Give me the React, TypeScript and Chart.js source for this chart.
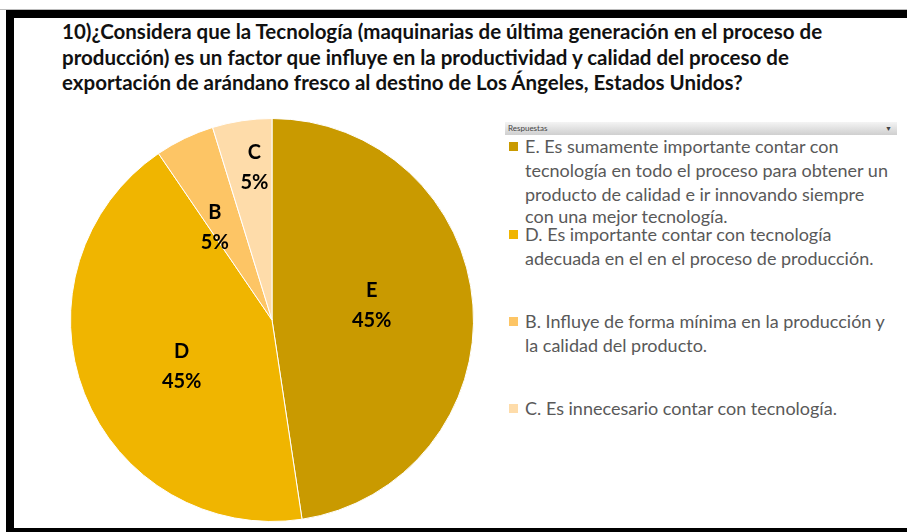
import React, { useEffect, useRef } from "react";
import { Chart, registerables } from "chart.js";

Chart.register(...registerables);

const titleLines = [
  "10)¿Considera que la Tecnología (maquinarias de última generación en el proceso de",
  "producción) es un factor que influye en la productividad y calidad del proceso de",
  "exportación de arándano fresco al destino de Los Ángeles, Estados Unidos?",
];
const categories = ["E", "D", "B", "C"];
const legendLines = [
  [
    "E. Es sumamente importante contar con",
    "tecnología en todo el proceso para obtener un",
    "producto de calidad e ir innovando siempre",
    "con una mejor tecnología.",
  ],
  ["D. Es importante contar con tecnología", "adecuada en el en el proceso de producción."],
  ["B. Influye de forma mínima en la producción y", "la calidad del producto."],
  ["C. Es innecesario contar con tecnología."],
];
const counts = [10, 9, 1, 1];
const percentLabels = ["45%", "45%", "5%", "5%"];
const legendHeader = "Respuestas";

const colors = ["#C99A00", "#F0B500", "#FDC565", "#FEDCAA"];
const labelRadiusFrac = [0.5, 0.505, 0.54, 0.76];
const labelAngleShift = [-4, -6, -6, 2];
const legendTops = [134, 222, 309, 396];

const labelPlugin = {
  id: "sliceLabels",
  afterDatasetsDraw(chart: any) {
    const ctx = chart.ctx;
    const meta = chart.getDatasetMeta(0);
    ctx.save();
    ctx.fillStyle = "#000";
    ctx.font = "bold 20px Lato, 'Noto Sans', sans-serif";
    ctx.textAlign = "center";
    ctx.textBaseline = "middle";
    meta.data.forEach((arc: any, i: number) => {
      const p = arc.getProps(["x", "y", "startAngle", "endAngle", "outerRadius"], true);
      const mid = (p.startAngle + p.endAngle) / 2 + (labelAngleShift[i] * Math.PI) / 180;
      const r = p.outerRadius * labelRadiusFrac[i];
      const x = p.x + Math.cos(mid) * r;
      const y = p.y + Math.sin(mid) * r;
      ctx.fillText(categories[i], x, y - 15);
      ctx.fillText(percentLabels[i], x, y + 15);
    });
    ctx.restore();
  },
};

export default function App() {
  const ref = useRef<HTMLCanvasElement>(null);
  useEffect(() => {
    document.body.style.margin = "0";
    const chart = new Chart(ref.current!, {
      type: "pie",
      data: {
        labels: categories,
        datasets: [
          {
            data: counts,
            backgroundColor: colors,
            borderColor: "#ffffff",
            borderWidth: 1,
          },
        ],
      },
      options: {
        animation: false,
        responsive: false,
        maintainAspectRatio: false,
        layout: { padding: 8 },
        plugins: { legend: { display: false }, tooltip: { enabled: false } },
      },
      plugins: [labelPlugin],
    });
    return () => chart.destroy();
  }, []);

  return (
    <div
      style={{
        position: "relative",
        width: 907,
        height: 532,
        background: "#fff",
        overflow: "hidden",
        fontFamily: "Lato, 'Noto Sans', sans-serif",
      }}
    >
      <div style={{ position: "absolute", left: 0, top: 9, width: 907, height: 1, background: "#bbb" }} />
      <div
        style={{
          position: "absolute",
          left: 6,
          top: 10,
          width: 920,
          height: 510,
          borderTop: "8px solid #000",
          borderLeft: "8px solid #000",
          borderBottom: "6px solid #000",
        }}
      />
      <div
        style={{
          position: "absolute",
          left: 62,
          top: 19,
          fontWeight: 700,
          fontSize: 20.5,
          lineHeight: "25.5px",
          color: "#111",
          whiteSpace: "nowrap",
        }}
      >
        {titleLines.map((l, i) => (
          <div key={i}>{l}</div>
        ))}
      </div>
      <canvas
        ref={ref}
        width={420}
        height={420}
        style={{ position: "absolute", left: 62, top: 110, width: 420, height: 420 }}
      />
      <div
        style={{
          position: "absolute",
          left: 505,
          top: 122,
          width: 392,
          height: 13,
          background: "linear-gradient(#f4f4f4, #cfcfcf)",
          fontSize: 8,
          lineHeight: "13px",
          color: "#444",
          paddingLeft: 3,
          boxSizing: "border-box",
        }}
      >
        {legendHeader}
        <span style={{ position: "absolute", right: 5, top: 0, fontSize: 7 }}>▼</span>
      </div>
      {legendLines.map((lines, i) => (
        <div
          key={i}
          style={{
            position: "absolute",
            left: 509,
            top: legendTops[i],
            fontSize: 18,
            lineHeight: "24px",
            color: "#595959",
            whiteSpace: "nowrap",
          }}
        >
          <span
            style={{
              position: "absolute",
              left: 0,
              top: 8,
              width: 9,
              height: 9,
              background: colors[i],
            }}
          />
          <div style={{ paddingLeft: 16 }}>
            {lines.map((l, j) => (
              <div key={j} style={j === 3 ? { marginTop: -2 } : undefined}>
                {l}
              </div>
            ))}
          </div>
        </div>
      ))}
    </div>
  );
}
